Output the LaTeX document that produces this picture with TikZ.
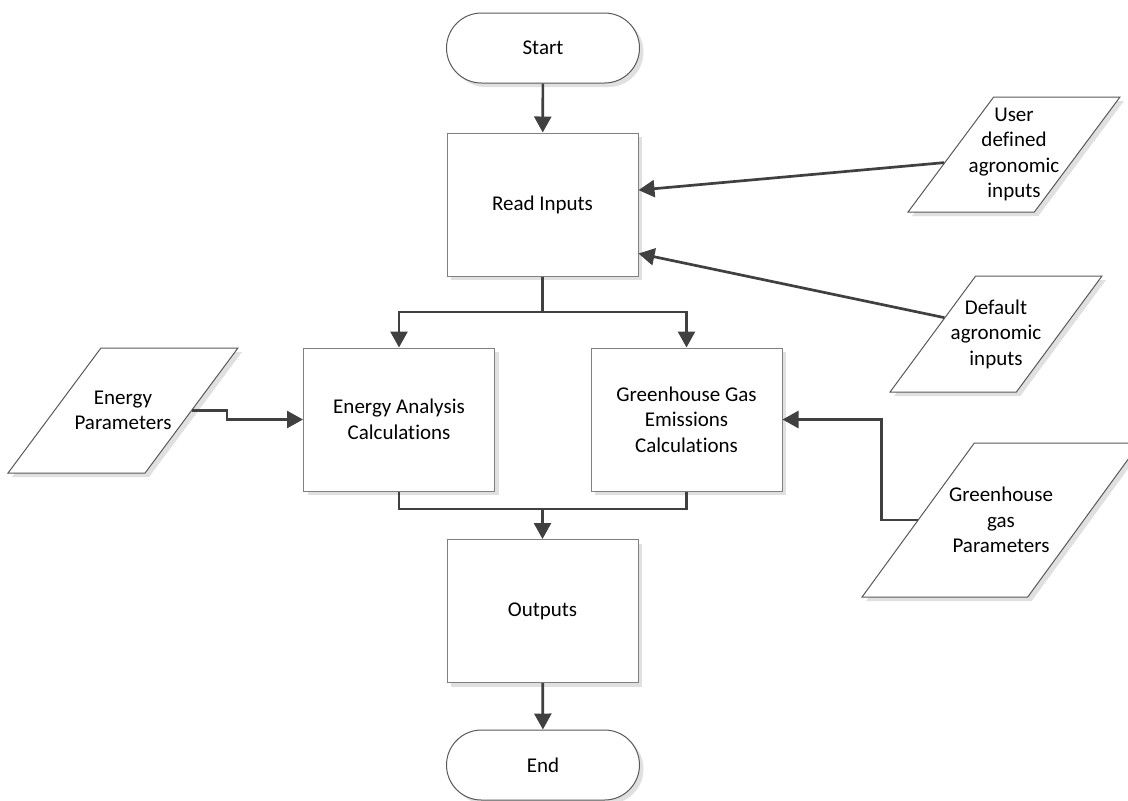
\documentclass[tikz,border=0pt]{standalone}
\usepackage{fontspec}
\setmainfont{Carlito}[Ligatures=NoCommon]
\usetikzlibrary{shapes.geometric, arrows.meta, shadows, calc}

\begin{document}
\begin{tikzpicture}[x=0.5pt, y=-0.5pt,
    font=\fontsize{10.5}{12.8}\selectfont,
    box/.style={draw=black!50, fill=white, line width=0.5pt, align=center,
      minimum width=95.5pt, minimum height=71.5pt,
      drop shadow={shadow xshift=2pt, shadow yshift=-2pt, fill=black!12, opacity=1}},
    term/.style={box, draw=black!65, rounded corners=17.5pt, minimum width=96.5pt, minimum height=35pt},
    io/.style={draw=black!65, fill=white, line width=0.5pt, inner sep=2pt,
      trapezium, trapezium left angle=63.4, trapezium right angle=116.6, trapezium stretches=true,
      drop shadow={shadow xshift=2pt, shadow yshift=-2pt, fill=black!12, opacity=1}},
    link/.style={draw=black!75, line width=1.35pt},
    flow/.style={link, -{Triangle[length=8pt, width=8.5pt]}}]
  \useasboundingbox (0,0) rectangle (1128,800);

  % main column
  \node[term] (start) at (543,48) {Start};
  \node[box] (read) at (542.5,204.5) {Read Inputs};
  \node[box] (energy) at (399,419.5) {Energy Analysis\\Calculations};
  \node[box] (ghg) at (686.5,419.5) {Greenhouse Gas\\Emissions\\Calculations};
  \node[box] (outputs) at (542.5,611) {Outputs};
  \node[term] (stop) at (543,765) {End};

  % inputs
  \node[io, minimum width=106pt, minimum height=57.5pt,
    label={[align=center]center:User\\defined\\agronomic\\inputs}] (user) at (1014,154.5) {\strut};
  \node[io, minimum width=106pt, minimum height=58pt,
    label={[align=center]center:Default\\agronomic\\inputs}] (default) at (996,334) {\strut};
  \node[io, minimum width=115pt, minimum height=62.5pt,
    label={[align=center]center:Energy\\Parameters}] (energypar) at (123,410.5) {\strut};
  \node[io, minimum width=139pt, minimum height=77pt,
    label={[align=center]center:Greenhouse\\gas\\Parameters}] (ghgpar) at (1001,520) {\strut};

  \coordinate (split) at (542.5,312);
  \coordinate (merge) at (542.5,509);

  \draw[flow] (start) -- (read);
  \draw[flow] (read.south) -- (split) -| (energy.north);
  \draw[flow] (split) -| (ghg.north);
  \draw[link] (energy.south) |- (merge);
  \draw[link] (ghg.south) |- (merge);
  \draw[flow] (merge) -- (outputs.north);
  \draw[flow] (outputs) -- (stop);

  \draw[flow] ($(user.top left corner)!0.57!(user.bottom left corner)$)
    -- ($(read.north east)!0.4!(read.south east)$);
  \draw[flow] ($(default.top left corner)!0.36!(default.bottom left corner)$)
    -- ($(read.north east)!0.84!(read.south east)$);
  \draw[flow] (energypar.right side) -- ++(35,0) |- (energy.west);
  \draw[flow] (ghgpar.left side) -- ++(-36,0) |- (ghg.east);
\end{tikzpicture}
\end{document}
